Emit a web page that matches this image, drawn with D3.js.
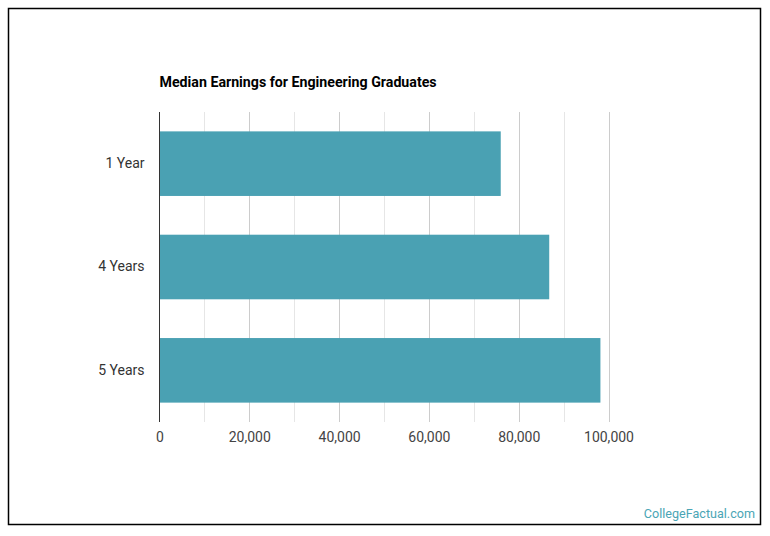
<!DOCTYPE html>
<html>
<head>
<meta charset="utf-8">
<script src="https://cdn.jsdelivr.net/npm/d3@7"></script>
<style>
  html, body { margin: 0; padding: 0; background: #fff; }
  svg { display: block; font-family: Roboto, "Noto Sans", sans-serif; }
</style>
</head>
<body>
<div id="chart"></div>
<script>
// Median earnings by years after graduation
const categories = ['1 Year', '4 Years', '5 Years'];
const earnings = [76000, 86800, 98200];
const gridTicks = [0, 10000, 20000, 30000, 40000, 50000, 60000, 70000, 80000, 90000, 100000];
const labelTicks = [0, 20000, 40000, 60000, 80000, 100000];

const W = 770, H = 536;
const plot = { left: 159.5, right: 608.5, top: 112, bottom: 422 };

const svg = d3.select('#chart').append('svg')
    .attr('width', W)
    .attr('height', H);

// Frame
svg.append('rect')
    .attr('x', 8.5).attr('y', 8.5)
    .attr('width', 752).attr('height', 516)
    .attr('fill', '#fff')
    .attr('stroke', '#000')
    .attr('stroke-width', 1.5);

const x = d3.scaleLinear()
    .domain([0, 100000])
    .range([plot.left, plot.right]);

const y = d3.scaleBand()
    .domain(categories)
    .range([plot.top, plot.bottom])
    .paddingInner(0.375)
    .paddingOuter(0.1875);

// Gridlines
svg.append('g')
    .selectAll('line')
    .data(gridTicks.filter(d => d > 0))
    .join('line')
    .attr('x1', d => Math.round(x(d)) + 0.5)
    .attr('x2', d => Math.round(x(d)) + 0.5)
    .attr('y1', plot.top)
    .attr('y2', plot.bottom)
    .attr('stroke', d => d % 20000 === 0 ? '#cccccc' : '#e6e6e6')
    .attr('stroke-width', 1);

// Bars
svg.append('g')
    .selectAll('rect')
    .data(earnings)
    .join('rect')
    .attr('x', x(0))
    .attr('y', (d, i) => y(categories[i]))
    .attr('width', d => x(d) - x(0))
    .attr('height', y.bandwidth())
    .attr('fill', '#4aa1b3');

// Baseline
svg.append('line')
    .attr('x1', x(0)).attr('x2', x(0))
    .attr('y1', plot.top).attr('y2', plot.bottom)
    .attr('stroke', '#333')
    .attr('stroke-width', 1);

// X axis labels
const xAxis = d3.axisBottom(x)
    .tickValues(labelTicks)
    .tickFormat(d3.format(','))
    .tickSize(0)
    .tickPadding(10);

svg.append('g')
    .attr('transform', `translate(0,${plot.bottom})`)
    .call(xAxis)
    .call(g => g.select('.domain').remove())
    .call(g => g.selectAll('text')
        .attr('fill', '#444')
        .attr('font-size', '14px')
        .attr('font-family', 'Roboto, sans-serif'));

// Y axis labels
const yAxis = d3.axisLeft(y)
    .tickSize(0)
    .tickPadding(15);

svg.append('g')
    .attr('transform', `translate(${plot.left},0)`)
    .call(yAxis)
    .call(g => g.select('.domain').remove())
    .call(g => g.selectAll('text')
        .attr('fill', '#333')
        .attr('font-size', '14px')
        .attr('font-family', 'Roboto, sans-serif'));

// Title
svg.append('text')
    .attr('x', plot.left)
    .attr('y', 87)
    .attr('font-size', '14.2px')
    .attr('font-weight', 'bold')
    .attr('fill', '#000')
    .text('Median Earnings for Engineering Graduates');

// Watermark
svg.append('text')
    .attr('x', 755)
    .attr('y', 518)
    .attr('text-anchor', 'end')
    .attr('font-size', '12.6px')
    .attr('fill', '#4aa5b5')
    .text('CollegeFactual.com');
</script>
</body>
</html>
